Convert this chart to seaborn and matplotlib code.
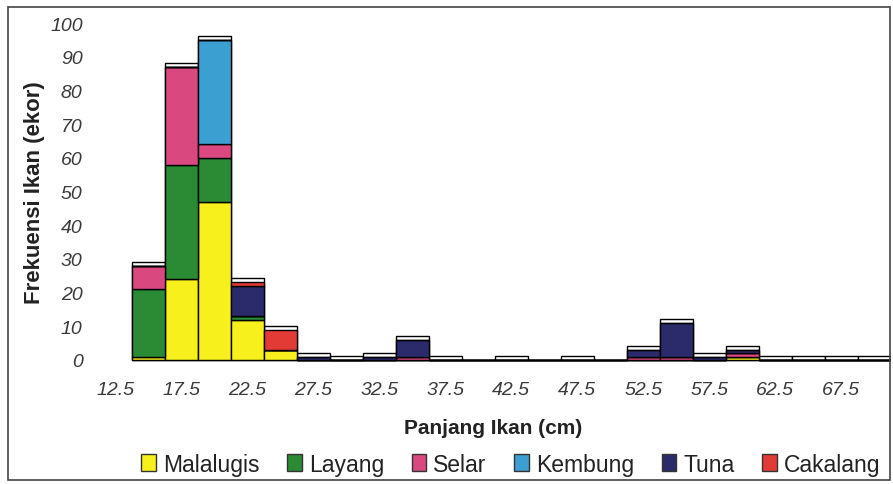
import numpy as np
import pandas as pd
import matplotlib
matplotlib.use("Agg")
import matplotlib.pyplot as plt
from matplotlib.patches import Patch, Rectangle
import seaborn as sns

# Length classes (cm, class midpoints) and catch counts per species
panjang = [15, 17.5, 20, 22.5, 25, 27.5, 30, 32.5, 35, 37.5, 42.5, 47.5,
           52.5, 55, 57.5, 60, 62.5, 65, 67.5, 70]
malalugis = [1, 24, 47, 12, 3, 0, 0, 0, 0, 0, 0, 0, 0, 0, 0, 1, 0, 0, 0, 0]
layang    = [20, 34, 13, 1, 0, 0, 0, 0, 0, 0, 0, 0, 0, 0, 0, 0, 0, 0, 0, 0]
selar     = [7, 29, 4, 0, 0, 0, 0, 0, 1, 0, 0, 0, 1, 1, 0, 1, 0, 0, 0, 0]
kembung   = [0, 0, 31, 0, 0, 0, 0, 0, 0, 0, 0, 0, 0, 0, 0, 0, 0, 0, 0, 0]
tuna      = [0, 0, 0, 9, 0, 1, 0, 1, 5, 0, 0, 0, 2, 10, 1, 1, 0, 0, 0, 0]
cakalang  = [0, 0, 0, 1, 6, 0, 0, 0, 0, 0, 0, 0, 0, 0, 0, 0, 0, 0, 0, 0]

jenis = ["Malalugis", "Layang", "Selar", "Kembung", "Tuna", "Cakalang"]
warna = ["#f7f01c", "#2b8a34", "#d9487f", "#3c9fd2", "#2b2b6b", "#e23b36"]
x_ticks = [12.5, 17.5, 22.5, 27.5, 32.5, 37.5, 42.5, 47.5, 52.5, 57.5, 62.5, 67.5]
y_ticks = list(range(0, 101, 10))

series = [malalugis, layang, selar, kembung, tuna, cakalang]
df = pd.DataFrame(
    [(p, j, v) for j, vals in zip(jenis, series) for p, v in zip(panjang, vals)],
    columns=["panjang", "jenis", "frekuensi"],
)
total = pd.DataFrame({"panjang": panjang,
                      "frekuensi": np.sum(series, axis=0) + 1.2})

lebar = 2.5
edges = [13.75 + i * lebar for i in range(24)]

sns.set_theme(style="white")
plt.rcParams["font.family"] = ["Liberation Sans", "DejaVu Sans"]

fig = plt.figure(figsize=(8.93, 4.85), dpi=100)
ax = fig.add_axes([0.1066, 0.235, 0.891, 0.736])

# white top face behind each class bar
sns.histplot(data=total, x="panjang", weights="frekuensi", bins=edges,
             color="white", edgecolor="black", linewidth=1.0, alpha=1,
             ax=ax, zorder=1)

# stacked species counts (seaborn puts the first hue level on top)
sns.histplot(data=df, x="panjang", weights="frekuensi", hue="jenis",
             hue_order=jenis[::-1], palette=dict(zip(jenis, warna)),
             multiple="stack", bins=edges, edgecolor="black", linewidth=1.0,
             alpha=1, ax=ax, legend=False, zorder=2)

ax.set_xlim(11, 71.25)
ax.set_ylim(-3, 103)
ax.set_xticks(x_ticks)
ax.set_xticklabels([f"{t:g}" for t in x_ticks])
ax.set_yticks(y_ticks)
for s in ax.spines.values():
    s.set_visible(False)
ax.tick_params(axis="both", length=0, labelsize=14, labelcolor="#3a3a3a")
ax.tick_params(axis="y", pad=9)
ax.tick_params(axis="x", pad=8)
for lab in ax.get_xticklabels() + ax.get_yticklabels():
    lab.set_fontstyle("italic")

ax.set_xlabel("Panjang Ikan (cm)", fontsize=15, fontweight="bold", color="#222222", labelpad=14)
ax.set_ylabel("Frekuensi Ikan (ekor)", fontsize=16, fontweight="bold", color="#222222", labelpad=4)

handles = [Patch(facecolor=c, edgecolor="#333333", linewidth=1.0) for c in warna]
fig.legend(handles, jenis, loc="center", bbox_to_anchor=(0.572, 0.041), ncol=6,
           frameon=False, fontsize=16.5, handlelength=0.65, handleheight=0.75,
           handletextpad=0.3, columnspacing=1.2, labelcolor="#222222")

fig.patches.append(Rectangle((0.009, 0.008), 0.988, 0.976, transform=fig.transFigure,
                             fill=False, edgecolor="#444444", linewidth=1.2))

fig.savefig("out.png", dpi=100)
